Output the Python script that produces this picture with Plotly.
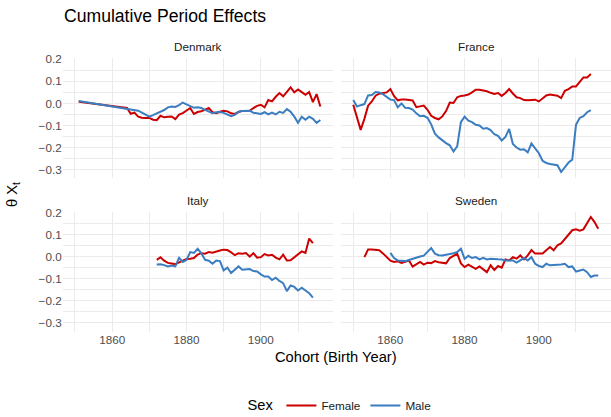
import plotly.graph_objects as go

# ---------------- data ----------------
countries = ["Denmark", "France", "Italy", "Sweden"]

denmark_years_f = [1851] + list(range(1864, 1917))
denmark_female = [0.008,
    -0.021, -0.047, -0.042, -0.060, -0.065, -0.066, -0.066, -0.074, -0.076, -0.056,
    -0.063, -0.060, -0.059, -0.071, -0.051, -0.044, -0.031, -0.021, -0.048, -0.039,
    -0.036, -0.030, -0.021, -0.040, -0.044, -0.038, -0.033, -0.036, -0.045, -0.048,
    -0.039, -0.034, -0.032, -0.033, -0.021, -0.011, -0.006, -0.018, 0.015, 0.009,
    0.030, 0.047, 0.032, 0.051, 0.073, 0.050, 0.063, 0.051, 0.039, 0.051,
    0.006, 0.042, -0.014]
denmark_years_m = [1851] + list(range(1864, 1917))
denmark_male = [0.011,
    -0.026, -0.028, -0.030, -0.033, -0.042, -0.052, -0.060, -0.053, -0.046, -0.040,
    -0.030, -0.018, -0.014, -0.016, -0.008, 0.004, -0.005, -0.012, -0.020, -0.018,
    -0.021, -0.029, -0.035, -0.044, -0.040, -0.039, -0.043, -0.050, -0.058, -0.052,
    -0.038, -0.034, -0.033, -0.033, -0.042, -0.046, -0.048, -0.040, -0.050, -0.042,
    -0.050, -0.038, -0.043, -0.026, -0.038, -0.060, -0.088, -0.060, -0.074, -0.060,
    -0.070, -0.088, -0.075]

france_years = list(range(1850, 1915))
france_female = [
    -0.006, -0.060, -0.120, -0.070, -0.010, 0.009, 0.035, 0.044, 0.047, 0.050,
    0.065, 0.033, 0.014, 0.018, 0.018, 0.016, 0.013, -0.017, -0.013, -0.010,
    -0.029, -0.056, -0.066, -0.072, -0.059, -0.035, 0.004, 0.002, 0.028, 0.034,
    0.036, 0.040, 0.050, 0.062, 0.062, 0.060, 0.055, 0.048, 0.043, 0.047,
    0.034, 0.047, 0.065, 0.045, 0.028, 0.024, 0.015, 0.014, 0.014, 0.017,
    0.009, 0.022, 0.036, 0.040, 0.036, 0.035, 0.024, 0.057, 0.065, 0.077,
    0.077, 0.100, 0.118, 0.118, 0.133]
france_male = [
    0.015, -0.014, -0.008, -0.003, 0.036, 0.038, 0.052, 0.050, 0.042, 0.030,
    0.017, 0.015, -0.018, 0.000, -0.020, -0.021, -0.028, -0.045, -0.058, -0.056,
    -0.065, -0.095, -0.137, -0.154, -0.168, -0.180, -0.190, -0.218, -0.195, -0.085,
    -0.060, -0.078, -0.085, -0.097, -0.100, -0.115, -0.112, -0.121, -0.140, -0.147,
    -0.168, -0.152, -0.116, -0.184, -0.200, -0.210, -0.208, -0.222, -0.182, -0.207,
    -0.226, -0.260, -0.270, -0.275, -0.276, -0.280, -0.311, -0.290, -0.268, -0.255,
    -0.097, -0.066, -0.058, -0.040, -0.030]

italy_years = list(range(1872, 1915))
italy_female = [
    -0.014, -0.003, -0.018, -0.028, -0.031, -0.034, -0.026, -0.018, -0.010, -0.009,
    -0.006, 0.010, 0.016, 0.014, 0.021, 0.018, 0.024, 0.028, 0.032, 0.030,
    0.020, 0.007, 0.016, 0.014, 0.017, 0.000, 0.016, -0.004, -0.002, 0.012,
    0.006, 0.009, -0.004, -0.012, 0.009, -0.017, -0.016, -0.002, 0.009, 0.024,
    0.017, 0.082, 0.062]
italy_male = [
    -0.035, -0.034, -0.038, -0.044, -0.040, -0.044, -0.005, -0.024, -0.015, 0.021,
    0.017, 0.036, 0.015, -0.014, -0.018, -0.032, -0.017, -0.020, -0.062, -0.050,
    -0.074, -0.059, -0.044, -0.059, -0.058, -0.056, -0.065, -0.067, -0.080, -0.090,
    -0.090, -0.106, -0.095, -0.110, -0.120, -0.156, -0.130, -0.137, -0.153, -0.141,
    -0.153, -0.165, -0.186]

sweden_years_f = list(range(1853, 1917))
sweden_female = [
    -0.002, 0.033, 0.033, 0.032, 0.029, 0.015, 0.000, -0.018, -0.024, -0.021,
    -0.028, -0.024, -0.017, -0.045, -0.034, -0.024, -0.036, -0.027, -0.029, -0.020,
    -0.025, -0.027, -0.030, -0.006, 0.003, 0.014, -0.030, -0.047, -0.036, -0.045,
    -0.055, -0.044, -0.058, -0.070, -0.039, -0.060, -0.042, -0.050, -0.012, -0.017,
    -0.002, -0.009, 0.006, -0.012, 0.006, 0.030, 0.014, 0.014, 0.014, 0.029,
    0.044, 0.029, 0.052, 0.060, 0.080, 0.105, 0.120, 0.124, 0.118, 0.124,
    0.150, 0.180, 0.157, 0.127]
sweden_years_m = list(range(1860, 1917))
sweden_male = [
    0.017, -0.006, -0.017, -0.020, -0.020, -0.015, -0.009, -0.004, 0.001, 0.005,
    0.021, 0.039, 0.014, 0.007, 0.006, 0.008, 0.012, 0.016, 0.021, 0.036,
    -0.010, 0.004, -0.006, -0.002, -0.012, -0.005, -0.012, -0.009, -0.012, -0.012,
    -0.013, -0.017, -0.017, -0.017, -0.027, -0.017, -0.006, -0.017, -0.002, -0.032,
    -0.042, -0.047, -0.032, -0.039, -0.036, -0.036, -0.035, -0.032, -0.047, -0.044,
    -0.067, -0.062, -0.058, -0.070, -0.092, -0.085, -0.085]

x_ticks = [1860, 1880, 1900]
x_tick_labels = ["1860", "1880", "1900"]
y_ticks = [-0.3, -0.2, -0.1, 0.0, 0.1, 0.2]
y_tick_labels = ["\u22120.3", "\u22120.2", "\u22120.1", "0.0", "0.1", "0.2"]

# ---------------- styling ----------------
W, H = 611, 417
RED = "#CC0000"
BLUE = "#3A7DC0"
FONT = "Liberation Sans, Arial, sans-serif"
GRID = "#EBEBEB"

def px_x(p):
    return p / W

def px_y(p):
    return 1 - p / H

x_dom_left = [px_x(62.7), px_x(332.6)]
x_dom_right = [px_x(341.0), px_x(610.5)]
y_dom_top = [px_y(178.3), px_y(58.3)]
y_dom_bot = [px_y(331.6), px_y(211.6)]

x_range = [1846.7, 1919.3]
y_range = [-0.3395, 0.2045]

series = [
    ("Denmark", denmark_years_f, denmark_female, denmark_years_m, denmark_male),
    ("France", france_years, france_female, france_years, france_male),
    ("Italy", italy_years, italy_female, italy_years, italy_male),
    ("Sweden", sweden_years_f, sweden_female, sweden_years_m, sweden_male),
]

fig = go.Figure()
for i, (name, yf, vf, ym, vm) in enumerate(series):
    ax = "" if i == 0 else str(i + 1)
    fig.add_trace(go.Scatter(x=yf, y=vf, mode="lines", name="Female",
                             line=dict(color=RED, width=2),
                             xaxis="x" + ax, yaxis="y" + ax,
                             legendgroup="Female", showlegend=(i == 0)))
    fig.add_trace(go.Scatter(x=ym, y=vm, mode="lines", name="Male",
                             line=dict(color=BLUE, width=2),
                             xaxis="x" + ax, yaxis="y" + ax,
                             legendgroup="Male", showlegend=(i == 0)))

layout = dict(
    width=W, height=H,
    margin=dict(l=0, r=0, t=0, b=0, pad=0, autoexpand=False),
    paper_bgcolor="white", plot_bgcolor="white",
    font=dict(family=FONT, color="#4D4D4D", size=12),
    showlegend=True,
    legend=dict(orientation="h", x=0.558, xanchor="center", y=px_y(406), yanchor="middle",
                title=dict(text="Sex", font=dict(size=14.7, color="#000000"), side="left"),
                font=dict(size=11.7, color="#1A1A1A"),
                itemwidth=30, tracegroupgap=0, bgcolor="rgba(0,0,0,0)"),
)

doms = [(x_dom_left, y_dom_top), (x_dom_right, y_dom_top),
        (x_dom_left, y_dom_bot), (x_dom_right, y_dom_bot)]
for i, (xd, yd) in enumerate(doms):
    ax = "" if i == 0 else str(i + 1)
    bottom = i >= 2
    left = i % 2 == 0
    layout["xaxis" + ax] = dict(
        domain=xd, range=x_range, anchor="y" + ax, automargin=False,
        tickvals=x_ticks, ticktext=x_tick_labels, showticklabels=bottom,
        showgrid=True, gridcolor=GRID, gridwidth=1.1, zeroline=False, showline=False,
        ticks="", tickfont=dict(size=11.7, color="#4D4D4D"),
        minor=dict(tickvals=[1850, 1870, 1890, 1910], showgrid=True, gridcolor=GRID, gridwidth=0.55),
    )
    layout["yaxis" + ax] = dict(
        domain=yd, range=y_range, anchor="x" + ax, automargin=False,
        tickvals=y_ticks, ticktext=y_tick_labels, showticklabels=left,
        showgrid=True, gridcolor=GRID, gridwidth=1.1, zeroline=False, showline=False,
        ticks="", tickfont=dict(size=11.7, color="#4D4D4D"),
        minor=dict(tickvals=[-0.25, -0.15, -0.05, 0.05, 0.15], showgrid=True,
                   gridcolor=GRID, gridwidth=0.55),
    )

fig.update_layout(**layout)

annotations = []
strip_pos = [(197.6, 47), (475.8, 47), (197.6, 200), (475.8, 200)]
for name, (sx, sy) in zip(countries, strip_pos):
    annotations.append(dict(text=name, x=px_x(sx), y=px_y(sy), xref="paper", yref="paper",
                            showarrow=False, xanchor="center", yanchor="middle",
                            font=dict(size=11.7, color="#1A1A1A")))
annotations.append(dict(text="Cumulative Period Effects", x=px_x(62), y=px_y(16),
                        xref="paper", yref="paper", showarrow=False,
                        xanchor="left", yanchor="middle",
                        font=dict(size=17.6, color="#000000")))
annotations.append(dict(text="\u03b8 X<sub>t</sub>", x=px_x(13), y=px_y(195),
                        xref="paper", yref="paper", showarrow=False, textangle=-90,
                        xanchor="center", yanchor="middle",
                        font=dict(size=14.7, color="#000000")))
annotations.append(dict(text="Cohort (Birth Year)", x=px_x(336), y=px_y(357),
                        xref="paper", yref="paper", showarrow=False,
                        xanchor="center", yanchor="middle",
                        font=dict(size=14.7, color="#000000")))
fig.update_layout(annotations=annotations)

# remove the browser's default page margin so the figure sits at the window origin
fig.write_html("out.html",
               config={"displayModeBar": False},
               post_script="document.body.style.margin='0';document.body.style.overflow='hidden';")
